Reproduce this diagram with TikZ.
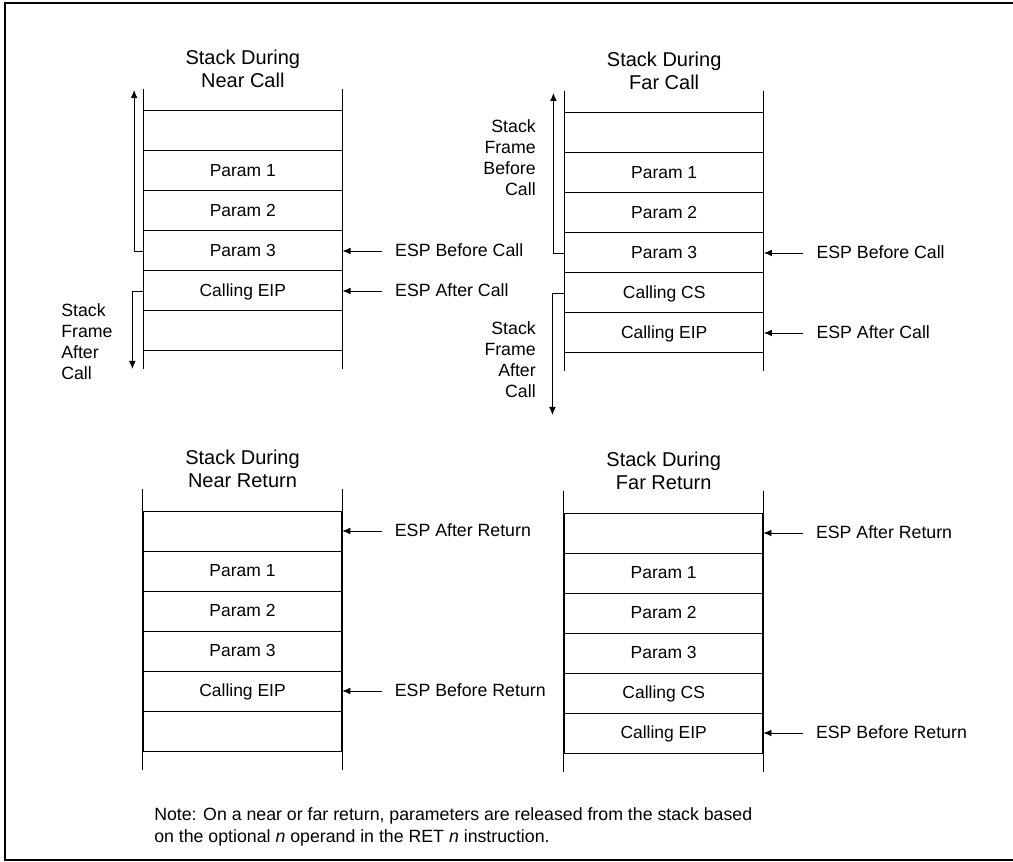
\documentclass[tikz,border=0pt]{standalone}
\usepackage{fontspec}
\setmainfont{Liberation Sans}
\usetikzlibrary{arrows.meta,positioning}
\tikzset{
  cell/.style={draw, line width=0.75pt, minimum width=148.9pt, minimum height=30pt,
    inner sep=0pt, text height=9.4pt, text depth=0.6pt, font=\fontsize{13.1}{15}\selectfont},
  title/.style={align=center, inner sep=0pt, font=\fontsize{15}{17.6}\selectfont},
  esp/.style={inner xsep=9.75pt, inner ysep=0pt, text height=9.5pt, text depth=0.6pt,
    font=\fontsize{13.3}{16}\selectfont},
  framelbl/.style={inner sep=0pt, font=\fontsize{13.3}{15.75}\selectfont},
  ptr/.style={-{Latex[length=6pt,width=5pt]}, line width=0.6pt},
  wall/.style={line width=0.75pt},
}
\begin{document}
\begin{tikzpicture}[x=0.75pt,y=-0.75pt]
    \useasboundingbox (0,0) rectangle (1013,862);
    \draw[line width=1.5pt] (1013,3.5) -- (5,3.5) -- (5,860) -- (1013,860);

    \foreach \t [count=\i] in {{}, Param 1, Param 2, Param 3, Calling EIP, {}}
      \node[cell] (nc\i) at (242.8,91+40*\i) {\t};
    \draw[wall] ([yshift=16pt]nc1.north west) -- ([yshift=-13.5pt]nc6.south west);
    \draw[wall] ([yshift=16pt]nc1.north east) -- ([yshift=-13.5pt]nc6.south east);
    \node[title] (tnc) at ([yshift=31.3pt]nc1.north) {Stack During\\Near Call};
    \node[esp, right=29.5pt of nc4] (ncbefore) {ESP Before Call};
    \node[esp, right=29.5pt of nc5] (ncafter) {ESP After Call};
    \draw[ptr] (ncbefore.west) -- (nc4.east);
    \draw[ptr] (ncafter.west) -- (nc5.east);
    \draw[ptr] (nc4.west) -- ++(-6.7pt,0) -- ++(0,120.7pt);
    \draw[ptr] (nc5.west) -- ++(-8pt,0) -- ++(0,-58.5pt);
    \node[framelbl, align=left, anchor=west] (ncframe) at (61,342) {Stack\\Frame\\After\\Call};

    \foreach \t [count=\i] in {{}, Param 1, Param 2, Param 3, Calling CS, Calling EIP}
      \node[cell] (fc\i) at (664.2,93+40*\i) {\t};
    \draw[wall] ([yshift=16pt]fc1.north west) -- ([yshift=-13.5pt]fc6.south west);
    \draw[wall] ([yshift=16pt]fc1.north east) -- ([yshift=-13.5pt]fc6.south east);
    \node[title] (tfc) at ([yshift=31.3pt]fc1.north) {Stack During\\Far Call};
    \node[esp, right=29.5pt of fc4] (fcbefore) {ESP Before Call};
    \node[esp, right=29.5pt of fc6] (fcafter) {ESP After Call};
    \draw[ptr] (fcbefore.west) -- (fc4.east);
    \draw[ptr] (fcafter.west) -- (fc6.east);
    \draw[ptr] (fc4.west) -- ++(-8.25pt,0) -- ++(0,120pt);
    \draw[ptr] (fc5.west) -- ++(-9pt,0) -- ++(0,-91.5pt);
    \node[framelbl, align=right, anchor=east] (fcframeb) at (536,157.5) {Stack\\Frame\\Before\\Call};
    \node[framelbl, align=right, anchor=east] (fcframea) at (536,360) {Stack\\Frame\\After\\Call};

    \foreach \t [count=\i] in {{}, Param 1, Param 2, Param 3, Calling EIP, {}}
      \node[cell] (nr\i) at (242.5,491+40*\i) {\t};
    \draw[wall] ([yshift=16pt]nr1.north west) -- ([yshift=-13.5pt]nr6.south west);
    \draw[wall] ([yshift=16pt]nr1.north east) -- ([yshift=-13.5pt]nr6.south east);
    \node[title] (tnr) at ([yshift=31.3pt]nr1.north) {Stack During\\Near Return};
    \node[esp, right=29.5pt of nr1] (nrafter) {ESP After Return};
    \node[esp, right=29.5pt of nr5] (nrbefore) {ESP Before Return};
    \draw[ptr] (nrafter.west) -- (nr1.east);
    \draw[ptr] (nrbefore.west) -- (nr5.east);

    \foreach \t [count=\i] in {{}, Param 1, Param 2, Param 3, Calling CS, Calling EIP}
      \node[cell] (fr\i) at (663.7,493+40*\i) {\t};
    \draw[wall] ([yshift=16pt]fr1.north west) -- ([yshift=-13.5pt]fr6.south west);
    \draw[wall] ([yshift=16pt]fr1.north east) -- ([yshift=-13.5pt]fr6.south east);
    \node[title] (tfr) at ([yshift=31.3pt]fr1.north) {Stack During\\Far Return};
    \node[esp, right=29.5pt of fr1] (frafter) {ESP After Return};
    \node[esp, right=29.5pt of fr6] (frbefore) {ESP Before Return};
    \draw[ptr] (frafter.west) -- (fr1.east);
    \draw[ptr] (frbefore.west) -- (fr6.east);

    \node[framelbl, align=left, anchor=west, font=\fontsize{13.3}{16.7}\selectfont] (note) at (154,827)
      {Note: On a near or far return, parameters are released from the stack based\\
       on the optional \textit{n} operand in the RET \textit{n} instruction.};
\end{tikzpicture}
\end{document}
